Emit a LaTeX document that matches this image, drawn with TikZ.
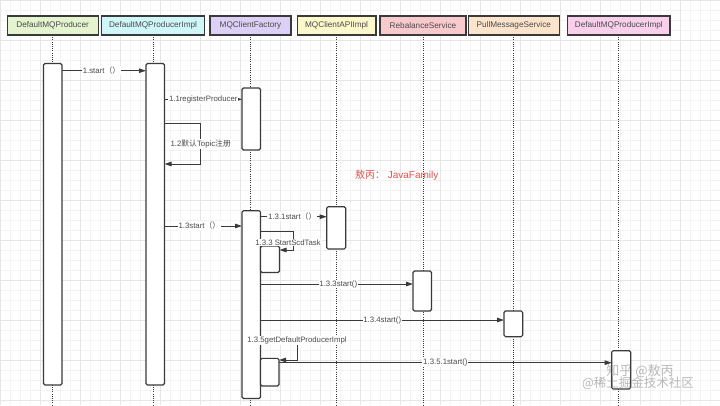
\documentclass[tikz,border=0pt]{standalone}
\usepackage{fontspec}
\setmainfont{Liberation Sans}
\newfontfamily\cjk{Noto Sans CJK SC}
\usetikzlibrary{arrows.meta}
\definecolor{ink}{HTML}{3A3A3A}
\definecolor{txt}{HTML}{4A4A4A}
\definecolor{cA}{HTML}{E3F4CF}
\definecolor{cB}{HTML}{CFF6F8}
\definecolor{cC}{HTML}{DDD0F6}
\definecolor{cD}{HTML}{FBF8CC}
\definecolor{cE}{HTML}{F8CACE}
\definecolor{cF}{HTML}{FBE4CB}
\definecolor{cG}{HTML}{F8D0EC}
\definecolor{redtxt}{HTML}{E5504A}
\definecolor{gmin}{HTML}{F3F3F3}
\definecolor{gmaj}{HTML}{E6E6E6}
\begin{document}
\begin{tikzpicture}[x=1pt,y=-1pt,
  hdr/.style={draw=ink, line width=1.1pt, minimum height=19pt, inner sep=0pt, outer sep=0pt, text=txt, font=\fontsize{8.2}{9}\selectfont},
  act/.style={draw=ink, fill=white, line width=1.1pt, rounded corners=1.5pt, inner sep=0pt, outer sep=0pt, anchor=north west},
  life/.style={draw=ink, line width=0.9pt, dash pattern=on 1pt off 1.2pt},
  msg/.style={draw=ink, line width=0.9pt, -{Triangle[length=7pt,width=4.5pt]}},
  lbl/.style={fill=white, inner sep=0.8pt, text=txt, font=\fontsize{7.8}{9}\selectfont}]
\useasboundingbox (0,0) rectangle (720,405);
\fill[white] (0,0) rectangle (720,405);
% grid
\foreach \x in {0,10,...,720} \draw[gmin, line width=0.4pt] (\x,0) -- (\x,405);
\foreach \y in {0,10,...,400} \draw[gmin, line width=0.4pt] (0,\y) -- (720,\y);
\foreach \x in {0,40,...,720} \draw[gmaj, line width=0.5pt] (\x,0) -- (\x,405);
\foreach \y in {0,40,...,400} \draw[gmaj, line width=0.5pt] (0,\y) -- (720,\y);
% headers
\node[hdr, fill=cA, minimum width=91pt]  (h1) at (52.6,25.5)  {DefaultMQProducer};
\node[hdr, fill=cB, minimum width=102.6pt] (h2) at (153,25.5) {DefaultMQProducerImpl};
\node[hdr, fill=cC, minimum width=81pt]  (h3) at (250.5,25.5) {MQClientFactory};
\node[hdr, fill=cD, minimum width=78.7pt] (h4) at (336.6,25.5) {MQClientAPIImpl};
\node[hdr, fill=cE, minimum width=86pt]  (h5) at (423,25.5)   {RebalanceService};
\node[hdr, fill=cF, minimum width=91pt]  (h6) at (513.8,25.5) {PullMessageService};
\node[hdr, fill=cG, minimum width=102.3pt] (h7) at (618.8,25.5) {DefaultMQProducerImpl};
\coordinate (bot) at (0,405);
\foreach \h in {h1,h2,h3,h4,h5,h6,h7} \draw[life] (\h.south) -- (\h.south |- bot);
% activations
\node[act, minimum width=18.5pt, minimum height=321.5pt] (a1) at (43.5,63.5) {};
\node[act, minimum width=18.5pt, minimum height=321.5pt] (a2) at (146,63.5) {};
\node[act, minimum width=18.5pt, minimum height=62pt]    (a3) at (242,88) {};
\node[act, minimum width=18.5pt, minimum height=187.8pt] (a4) at (242,210.7) {};
\node[act, minimum width=19pt, minimum height=42.3pt]    (a5) at (326.7,206.7) {};
\node[act, minimum width=18.5pt, minimum height=40pt]    (a7) at (413,271) {};
\node[act, minimum width=18.7pt, minimum height=25.7pt]  (a8) at (504,311) {};
\node[act, minimum width=19pt, minimum height=38.3pt]    (a10) at (611.7,350.7) {};
\node[act, minimum width=19pt, minimum height=26.5pt]    (a6) at (260.5,246) {};
\node[act, minimum width=18.5pt, minimum height=27.7pt]  (a9) at (260.5,358.3) {};
% rows
\coordinate (r1) at (0,70.7);
\coordinate (r2) at (0,99.3);
\coordinate (r3a) at (0,123.3);
\coordinate (r3b) at (0,164);
\coordinate (r4) at (0,226);
\coordinate (r5) at (0,216.7);
\coordinate (r6a) at (0,231);
\coordinate (r6b) at (0,250);
\coordinate (r7) at (0,284);
\coordinate (r8) at (0,320);
\coordinate (r9a) at (0,340.7);
\coordinate (r9b) at (0,360);
\coordinate (r10) at (0,362.7);
% messages
\draw[msg] (a1.east |- r1) -- node[lbl, pos=0.47] {1.start{\cjk （）}} (a2.west |- r1);
\draw[msg] (a2.east |- r2) -- node[lbl, pos=0.5] {1.1registerProducer} (a3.west |- r2);
\draw[msg] (a2.east |- r3a) -- (200.7,123.3) -- node[lbl] {1.2{\cjk 默认}Topic{\cjk 注册}} (200.7,164) -- (a2.east |- r3b);
\draw[msg] (a2.east |- r4) -- node[lbl, pos=0.45] {1.3start{\cjk （）}} (a4.west |- r4);
\draw[msg] (a4.east |- r5) -- node[lbl, pos=0.48] {1.3.1start{\cjk （）}} (a5.west |- r5);
\draw[msg] (a4.east |- r6a) -- (293,231) -- node[lbl, xshift=-5pt, pos=0.6] {1.3.3 StartScdTask} (293,250) -- (a6.east |- r6b);
\draw[msg] (a4.east |- r7) -- node[lbl, pos=0.51] {1.3.3start()} (a7.west |- r7);
\draw[msg] (a4.east |- r8) -- node[lbl, pos=0.5] {1.3.4start()} (a8.west |- r8);
\draw[msg] (a4.east |- r9a) -- (297,340.7) node[lbl] {1.3.5getDefaultProducerImpl} -- (297,360) -- (a9.east |- r9b);
\draw[msg] (a9.east |- r10) -- node[lbl, pos=0.5] {1.3.5.1start()} (a10.west |- r10);
% red note
\node[text=redtxt, font=\fontsize{10}{12}\selectfont] (note) at (396.7,175) {{\cjk 敖丙：} JavaFamily};
% watermarks
\node[text=gray, opacity=0.55, font=\cjk\fontsize{13}{14}\selectfont] (wm1) at (640,371) {知乎 @敖丙};
\node[text=gray, opacity=0.55, font=\cjk\fontsize{12.5}{14}\selectfont] (wm2) at (638,383.5) {@稀土掘金技术社区};
\end{tikzpicture}
\end{document}
